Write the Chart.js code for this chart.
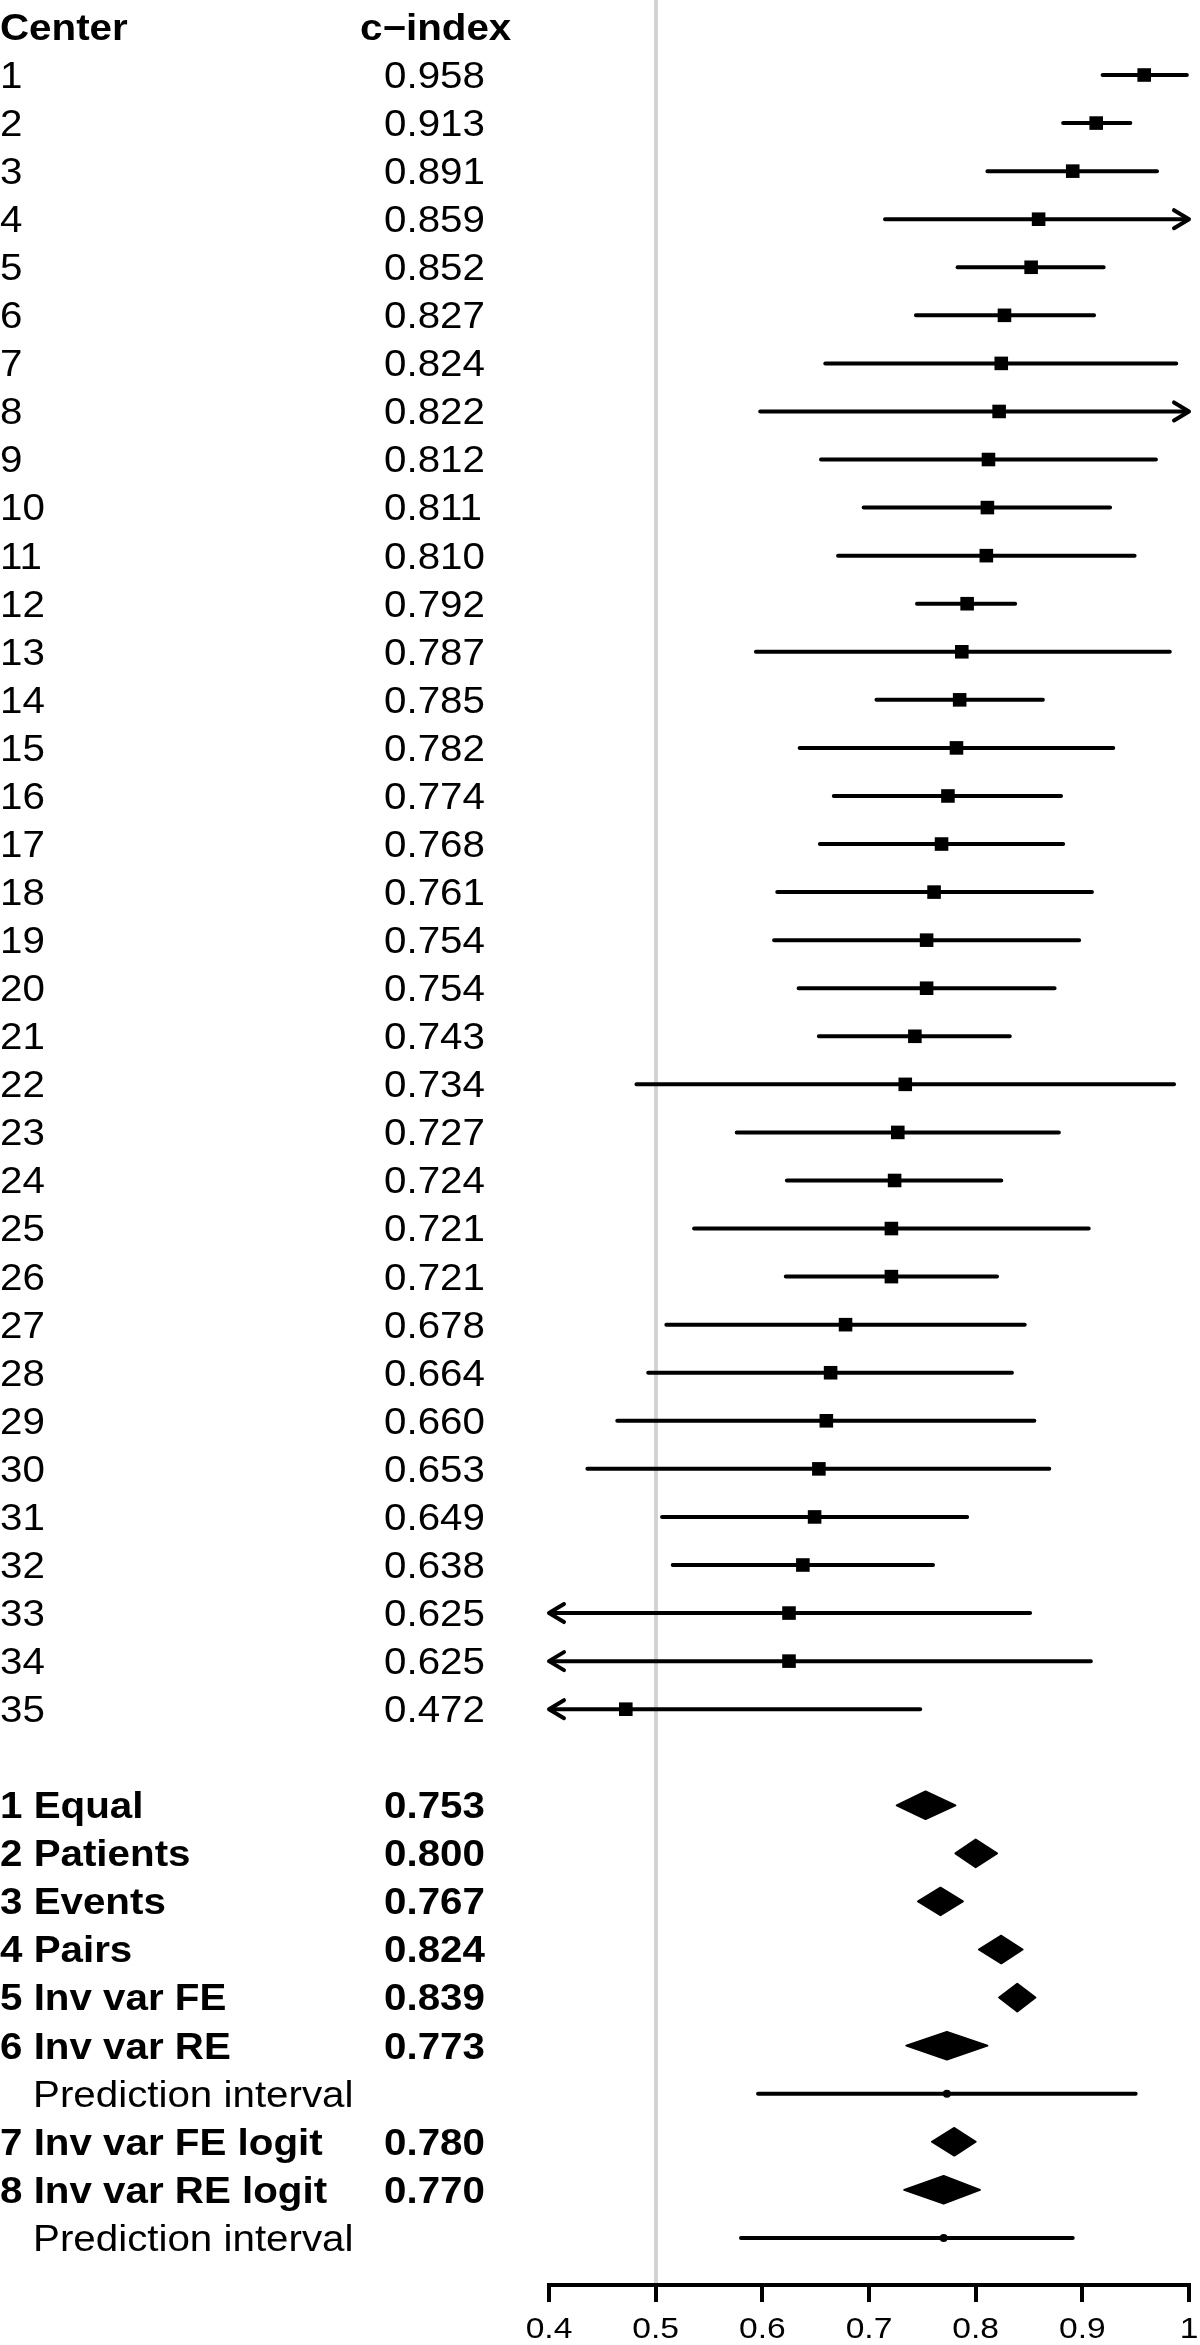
<!DOCTYPE html>
<html>
<head>
<meta charset="utf-8">
<title>c-index by center</title>
<script src="https://cdn.jsdelivr.net/npm/chart.js"></script>
<style>
  html, body { margin: 0; padding: 0; background: #fff; }
  #wrap { width: 1200px; height: 2345px; position: relative; }
</style>
</head>
<body>
<div id="wrap"><canvas id="forest"></canvas></div>
<script>
// per-center c-index with 95% CI (arrows = CI runs past the axis)
const centers = ['1','2','3','4','5','6','7','8','9','10','11','12','13','14','15','16','17','18',
  '19','20','21','22','23','24','25','26','27','28','29','30','31','32','33','34','35'];
const cIndex = [0.958,0.913,0.891,0.859,0.852,0.827,0.824,0.822,0.812,0.811,0.810,0.792,0.787,0.785,
  0.782,0.774,0.768,0.761,0.754,0.754,0.743,0.734,0.727,0.724,0.721,0.721,0.678,0.664,0.660,0.653,
  0.649,0.638,0.625,0.625,0.472];
const ciLower = [0.919,0.882,0.811,0.715,0.783,0.744,0.659,0.598,0.655,0.695,0.671,0.745,0.594,0.707,
  0.635,0.667,0.654,0.614,0.611,0.634,0.653,0.482,0.576,0.623,0.536,0.622,0.510,0.493,0.464,0.436,
  0.506,0.516,0.399,0.342,0.196];
const ciUpper = [0.998,0.945,0.970,1.003,0.920,0.911,0.988,1.046,0.969,0.926,0.949,0.837,0.982,0.863,
  0.929,0.880,0.882,0.909,0.897,0.874,0.832,0.986,0.878,0.824,0.906,0.820,0.846,0.834,0.855,0.869,
  0.792,0.760,0.851,0.908,0.748];

// pooled estimates
const pooledLabels = ['1 Equal','2 Patients','3 Events','4 Pairs','5 Inv var FE','6 Inv var RE',
  '7 Inv var FE logit','8 Inv var RE logit'];
const pooledEst = [0.753,0.800,0.767,0.824,0.839,0.773,0.780,0.770];
const pooledLower = [0.726,0.781,0.746,0.803,0.822,0.735,0.759,0.733];
const pooledUpper = [0.781,0.820,0.788,0.844,0.856,0.811,0.800,0.804];

// prediction intervals (shown under the two random-effects rows)
const predAfter = [5, 7];
const predEst = [0.773, 0.770];
const predLower = [0.596, 0.580];
const predUpper = [0.950, 0.891];

const xTicks = [0.4, 0.5, 0.6, 0.7, 0.8, 0.9, 1];
const refValue = 0.5;

const FONT = '"Liberation Sans", Arial, Helvetica, sans-serif';
const TXT = 36, TICK_TXT = 30, STRETCH = 1.12;

// one row per line of the table
const rows = [];
centers.forEach((c, i) => rows.push({ row: i + 1, label: c, est: cIndex[i], lo: ciLower[i], hi: ciUpper[i], kind: 'study' }));
let r = centers.length + 2;
pooledLabels.forEach((lab, i) => {
  rows.push({ row: r++, label: lab, est: pooledEst[i], lo: pooledLower[i], hi: pooledUpper[i], kind: 'pooled' });
  const p = predAfter.indexOf(i);
  if (p >= 0) rows.push({ row: r++, label: 'Prediction interval', est: predEst[p], lo: predLower[p], hi: predUpper[p], kind: 'pred' });
});

const ciSegments = [];
rows.filter(d => d.kind !== 'pooled').forEach(d => {
  ciSegments.push({ x: d.lo, y: d.row }, { x: d.hi, y: d.row }, { x: null, y: null });
});

// text is drawn a little wider than Liberation Sans to match the original Helvetica output
function drawText(ctx, str, x, baseline, opts) {
  ctx.save();
  ctx.font = (opts.bold ? 'bold ' : '') + opts.size + 'px ' + FONT;
  ctx.fillStyle = '#000';
  ctx.textBaseline = 'alphabetic';
  ctx.textAlign = opts.align || 'left';
  ctx.translate(x, baseline);
  ctx.scale(STRETCH, 1);
  ctx.fillText(str, 0, 0);
  ctx.restore();
}
const rowText = (ctx, str, x, yPix, bold) => drawText(ctx, str, x, yPix + 0.358 * TXT, { bold, size: TXT });

const tablePlugin = {
  id: 'tableText',
  afterDraw(chart) {
    const { ctx } = chart;
    const x = chart.scales.x, y = chart.scales.y;
    rowText(ctx, 'Center', 0, y.getPixelForValue(0), true);
    rowText(ctx, 'c\u2212index', 360, y.getPixelForValue(0), true);
    rows.forEach(d => {
      const py = y.getPixelForValue(d.row);
      if (d.kind === 'pred') {
        rowText(ctx, d.label, 33, py, false);
        return;
      }
      const bold = d.kind === 'pooled';
      rowText(ctx, d.label, 0, py, bold);
      rowText(ctx, d.est.toFixed(3), 384, py, bold);
    });
    // x tick labels
    x.ticks.forEach(t => {
      const lab = t.value === 1 ? '1' : t.value.toFixed(1);
      drawText(ctx, lab, x.getPixelForValue(t.value), x.top + 53, { size: TICK_TXT, align: 'center' });
    });
  }
};

const marksPlugin = {
  id: 'forestMarks',
  afterDatasetsDraw(chart) {
    const { ctx } = chart;
    const x = chart.scales.x, y = chart.scales.y;
    const rowPx = Math.abs(y.getPixelForValue(1) - y.getPixelForValue(0));
    ctx.save();
    ctx.fillStyle = '#000';
    ctx.strokeStyle = '#000';
    // summary diamonds
    rows.filter(d => d.kind === 'pooled').forEach(d => {
      const py = y.getPixelForValue(d.row), h = 0.287 * rowPx;
      ctx.beginPath();
      ctx.moveTo(x.getPixelForValue(d.lo), py);
      ctx.lineTo(x.getPixelForValue(d.est), py - h);
      ctx.lineTo(x.getPixelForValue(d.hi), py);
      ctx.lineTo(x.getPixelForValue(d.est), py + h);
      ctx.closePath();
      ctx.lineJoin = 'round';
      ctx.lineWidth = 2;
      ctx.fill();
      ctx.stroke();
    });
    // arrows where a CI runs off the axis
    ctx.lineWidth = 4;
    ctx.lineCap = 'round';
    ctx.lineJoin = 'round';
    rows.filter(d => d.kind === 'study').forEach(d => {
      const py = y.getPixelForValue(d.row);
      if (d.hi > x.max) {
        const tip = x.getPixelForValue(x.max);
        ctx.beginPath();
        ctx.moveTo(tip - 15, py - 9); ctx.lineTo(tip, py); ctx.lineTo(tip - 15, py + 9);
        ctx.stroke();
      }
      if (d.lo < x.min) {
        const tip = x.getPixelForValue(x.min);
        ctx.beginPath();
        ctx.moveTo(tip + 15, py - 9); ctx.lineTo(tip, py); ctx.lineTo(tip + 15, py + 9);
        ctx.stroke();
      }
    });
    ctx.restore();
  }
};

new Chart(document.getElementById('forest'), {
  type: 'scatter',
  data: {
    datasets: [
      {
        type: 'line',
        data: ciSegments,
        borderColor: '#000',
        borderWidth: 4,
        borderCapStyle: 'round',
        pointRadius: 0,
        spanGaps: false,
        tension: 0
      },
      {
        data: rows.filter(d => d.kind === 'study').map(d => ({ x: d.est, y: d.row })),
        pointStyle: 'rect',
        pointRadius: 9.6,
        pointBorderWidth: 0,
        backgroundColor: '#000'
      },
      {
        data: rows.filter(d => d.kind === 'pred').map(d => ({ x: d.est, y: d.row })),
        pointStyle: 'circle',
        pointRadius: 4,
        pointBorderWidth: 0,
        backgroundColor: '#000'
      }
    ]
  },
  options: {
    responsive: true,
    maintainAspectRatio: false,
    animation: false,
    layout: { autoPadding: false, padding: { left: 549, right: 11, top: 0, bottom: 0 } },
    plugins: { legend: { display: false }, tooltip: { enabled: false } },
    scales: {
      x: {
        type: 'linear',
        min: 0.4,
        max: 1,
        afterBuildTicks(scale) { scale.ticks = xTicks.map(v => ({ value: v })); },
        afterFit(scale) { scale.height = 60; },
        grid: {
          drawOnChartArea: true,
          color: c => (c.tick && Math.abs(c.tick.value - refValue) < 1e-9 ? '#d3d3d3' : 'rgba(0,0,0,0)'),
          lineWidth: 4,
          tickColor: '#000',
          tickWidth: 4,
          tickLength: 17
        },
        border: { display: true, color: '#000', width: 4 },
        ticks: { display: false }
      },
      y: {
        type: 'linear',
        display: false,
        reverse: true,
        min: -0.5606,
        max: 46.98
      }
    }
  },
  plugins: [tablePlugin, marksPlugin]
});
</script>
</body>
</html>
